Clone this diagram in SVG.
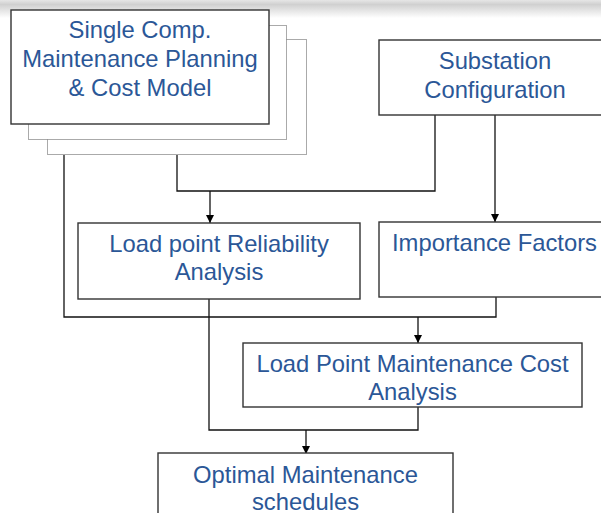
<svg xmlns="http://www.w3.org/2000/svg" width="601" height="513" viewBox="0 0 601 513">
<defs>
<linearGradient id="band" x1="0" y1="0" x2="0" y2="1">
<stop offset="0" stop-color="#e6e6e6"/>
<stop offset="0.25" stop-color="#d0d0d0"/>
<stop offset="1" stop-color="#ffffff"/>
</linearGradient>
<marker id="arr" markerWidth="10" markerHeight="10" refX="9" refY="5" orient="auto" markerUnits="userSpaceOnUse">
<path d="M1,1 L9,5 L1,9 Z" fill="#000"/>
</marker>
<style>
.box{fill:#fff;stroke:#333;stroke-width:1.4}
.shadow{fill:#fff;stroke:#555;stroke-width:1;stroke-dasharray:1 1}
.t{font-family:"Liberation Sans",Arial,sans-serif;font-size:23.8px;fill:#2b5797;text-anchor:middle}
.c{fill:none;stroke:#111;stroke-width:1.3}
</style>
</defs>
<rect x="0" y="0" width="601" height="513" fill="#fff"/>
<rect x="0" y="0" width="601" height="18" fill="url(#band)"/>
<g id="connectors">
<polyline class="c" points="177,155 177,191 435,191 435,115"/>
<line class="c" x1="210" y1="191" x2="210" y2="223" marker-end="url(#arr)"/>
<line class="c" x1="495" y1="115" x2="495" y2="222" marker-end="url(#arr)"/>
<polyline class="c" points="64,155 64,317 496,317 496,297"/>
<line class="c" x1="418" y1="317" x2="418" y2="343" marker-end="url(#arr)"/>
<polyline class="c" points="209,299 209,430 418,430 418,407"/>
<line class="c" x1="306" y1="430" x2="306" y2="454" marker-end="url(#arr)"/>
</g>
<g id="single-comp">
<rect class="shadow" x="47.5" y="39.5" width="259" height="115"/>
<rect class="shadow" x="28.5" y="25.5" width="258" height="114"/>
<rect class="box" x="11" y="10" width="258" height="114"/>
<text class="t" x="140" y="38">Single Comp.</text>
<text class="t" x="140" y="67">Maintenance Planning</text>
<text class="t" x="140" y="96">&amp; Cost Model</text>
</g>
<g id="substation">
<rect class="box" x="379" y="40" width="240" height="75"/>
<text class="t" x="495" y="69">Substation</text>
<text class="t" x="495" y="98">Configuration</text>
</g>
<g id="load-point-reliability">
<rect class="box" x="78" y="223" width="282" height="76"/>
<text class="t" x="219" y="252">Load point Reliability</text>
<text class="t" x="219" y="280">Analysis</text>
</g>
<g id="importance-factors">
<rect class="box" x="379" y="222" width="240" height="75"/>
<text class="t" x="494.5" y="251">Importance Factors</text>
</g>
<g id="load-point-maintenance-cost">
<rect class="box" x="243" y="343" width="339" height="64"/>
<text class="t" x="412.5" y="372">Load Point Maintenance Cost</text>
<text class="t" x="412.5" y="400">Analysis</text>
</g>
<g id="optimal-maintenance">
<rect class="box" x="158" y="453" width="295" height="80"/>
<text class="t" x="305.5" y="483">Optimal Maintenance</text>
<text class="t" x="305.5" y="510">schedules</text>
</g>
</svg>
